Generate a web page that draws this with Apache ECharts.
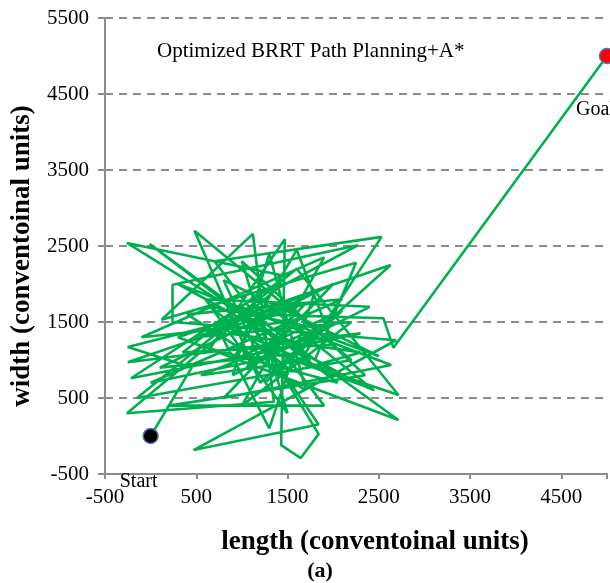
<!DOCTYPE html>
<html>
<head>
<meta charset="utf-8">
<script src="https://cdn.jsdelivr.net/npm/echarts@6/dist/echarts.min.js"></script>
<style>
html,body{margin:0;padding:0;background:#fff;}
#c{width:610px;height:583px;}
</style>
</head>
<body>
<div id="c"></div>
<script>
// ---- data ----
const xTicks = [-500, 500, 1500, 2500, 3500, 4500];
const yTicks = [-500, 500, 1500, 2500, 3500, 4500, 5500];
const pathX = [0, 450, -250, 1650, -250, 2300, -215, 1500, -260, 1800, 2250, 120, 1120, 1350, -260, 1400, 2270, 240, 240, 2690,
  470, 1840, 1050, -10, 2050, 650, 1470, 1430, 1645, 1840, 1000, 2715, 300, 2630, 1200, 480, 2200, -150, 1600, 2715,
  1100, 2310, 300, 2635, 800, 2000, 100, 1700, 2530, 700, 1900, 200, 2350, 1000, 1500,
  600, 2400, 900, 1300, 1700, 400, 2100, 0, 1200, 800, 2500, 1500, -100, 1900, 1000, 2200, 500, 1800, 1300, 700,
  2450, 1150, 350, 2000, 1600, 900, 2100, 1250, 1900, 650, 1550, 2300, 850, 1700, 1050, 2000, 1400, 550, 1750, 1150,
  2550, 2660, 5000];
const pathY = [0, 900, 1170, 1750, 970, 1350, 760, 2100, 2540, 1000, 2280, 1530, 2660, 450, 300, 1950, 2510, 1990, 1500, 1260,
  -185, 150, 1550, 2526, 700, 1150, 2590, -120, -290, 25, 1700, 210, 1300, 2250, 700, 2700, 1000, 500, 2200, 540,
  1200, 670, 2000, 935, 500, 2000, 900, 1100, 2620, 2300, 400, 400, 800, 2300, 300,
  1800, 1700, 800, 2400, 600, 1600, 1800, 700, 1000, 2050, 1050, 1500, 1300, 2350, 400, 1500, 1300, 1900, 100, 1500,
  600, 1850, 1100, 1200, 2450, 1000, 1650, 700, 1400, 1700, 850, 1100, 1350, 1750, 900, 1500, 1200, 800, 1000, 1600,
  1550, 1160, 5000];
const startPt = [0, 0];
const goalPt = [5000, 5000];
const titleText = 'Optimized BRRT Path Planning+A*';

const serif = '"Liberation Serif","Times New Roman",serif';
const chart = echarts.init(document.getElementById('c'));
const pathData = pathX.map((x, i) => [x, pathY[i]]);

chart.setOption({
  animation: false,
  grid: {left: 105, right: 0, top: 18, bottom: 109, containLabel: false},
  xAxis: {
    type: 'value', min: -500, max: 5000, interval: 1000,
    axisLine: {show: true, onZero: false, lineStyle: {color: '#8c8c8c', width: 2}},
    axisTick: {show: true, length: 5, lineStyle: {color: '#8c8c8c', width: 2}},
    splitLine: {show: false},
    axisLabel: {
      color: '#000', fontFamily: serif, fontSize: 21, margin: 13,
      formatter: v => xTicks.includes(v) ? String(v) : ''
    }
  },
  yAxis: {
    type: 'value', min: -500, max: 5500, interval: 1000,
    axisLine: {show: true, onZero: false, lineStyle: {color: '#8c8c8c', width: 2}},
    axisTick: {show: true, length: 7, lineStyle: {color: '#8c8c8c', width: 2}},
    splitLine: {show: true, lineStyle: {color: '#8c8c8c', width: 2, type: [8, 6]}},
    axisLabel: {
      color: '#000', fontFamily: serif, fontSize: 21, margin: 16,
      formatter: v => yTicks.includes(v) ? String(v) : ''
    }
  },
  series: [
    {
      type: 'line', data: pathData, showSymbol: false, symbol: 'none',
      lineStyle: {color: '#00b050', width: 2.6}, z: 3, clip: false
    },
    {
      type: 'scatter', data: [startPt], symbolSize: 15, z: 5,
      itemStyle: {color: '#000', borderColor: '#4a78c0', borderWidth: 1.5, opacity: 1},
      label: {show: true, formatter: 'Start', position: 'bottom', offset: [-12, 22], opacity: 1,
        color: '#000', fontFamily: serif, fontSize: 20, textBorderWidth: 0}
    },
    {
      type: 'scatter', data: [goalPt], symbolSize: 15, z: 5,
      itemStyle: {color: '#ff0000', borderColor: '#4a78c0', borderWidth: 1.5, opacity: 1},
      label: {show: true, formatter: 'Goal', position: 'bottom', offset: [-31, 30], opacity: 1,
        align: 'left', color: '#000', fontFamily: serif, fontSize: 20, textBorderWidth: 0}
    }
  ],
  graphic: [
    {type: 'text', left: 157, top: 41, style: {text: titleText, font: '21px ' + serif, fill: '#000'}},
    {type: 'text', x: 375, y: 542, style: {text: 'length (conventoinal units)', font: 'bold 27px ' + serif, fill: '#000', textAlign: 'center', textVerticalAlign: 'middle'}},
    {type: 'text', x: 22, y: 256, rotation: Math.PI / 2, style: {text: 'width (conventoinal units)', font: 'bold 27px ' + serif, fill: '#000', textAlign: 'center', textVerticalAlign: 'middle'}},
    {type: 'text', x: 320, y: 571, style: {text: '(a)', font: 'bold 22px ' + serif, fill: '#000', textAlign: 'center', textVerticalAlign: 'middle'}}
  ]
});
</script>
</body>
</html>
